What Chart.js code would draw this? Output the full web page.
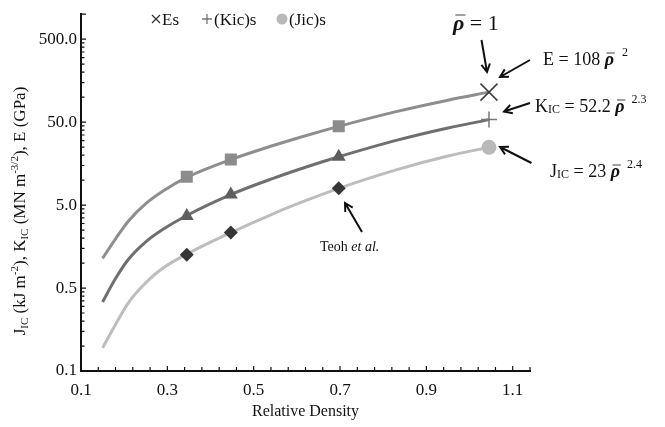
<!DOCTYPE html>
<html>
<head>
<meta charset="utf-8">
<script src="https://cdn.jsdelivr.net/npm/chart.js@4.4.1/dist/chart.umd.min.js"></script>
<style>
  html, body { margin: 0; padding: 0; background: #fff; }
</style>
</head>
<body>
<canvas id="chart" width="665" height="427"></canvas>
<script>
// Fitted curves (relative density -> property)
const fitDensity = [0.15, 0.18, 0.21, 0.25, 0.29, 0.345, 0.447, 0.545, 0.62, 0.697, 0.83, 0.95, 1.045];
const fitE = [1.14, 1.96, 3.22, 5.2, 7.4, 10.8, 17.7, 26.1, 34.3, 44.5, 67.0, 92.0, 115];
const fitK = [0.34, 0.65, 1.11, 1.8, 2.55, 3.75, 6.7, 10.5, 14.3, 19.1, 30.1, 42.5, 53.6];
const fitJ = [0.095, 0.182, 0.334, 0.58, 0.87, 1.28, 2.33, 3.93, 5.65, 7.96, 13.3, 19.5, 24.9];

// Teoh et al. points
const teohDensity = [0.345, 0.447, 0.697];
const teohE = [11.0, 17.7, 44.5];
const teohK = [3.7, 6.7, 19.1];
const teohJ = [1.26, 2.33, 7.96];

// Solid values
const solidDensity = [1.045];
const solidE = [115];
const solidK = [53.6];
const solidJ = [24.9];

// Axes
const xTicks = [0.1, 0.3, 0.5, 0.7, 0.9, 1.1];
const xTickLabels = ['0.1', '0.3', '0.5', '0.7', '0.9', '1.1'];
const xMinorStep = 0.04;
const yTicks = [0.05, 0.5, 5, 50, 500];
const yTickLabels = ['0.1', '0.5', '5.0', '50.0', '500.0'];
const yMinorMult = [2, 3, 4, 5, 6, 7, 8, 9];

const serif = "'Liberation Serif', 'Times New Roman', serif";
const pts = (xs, ys) => xs.map((x, i) => ({ x: x, y: ys[i] }));

const markerSet = (data, style, radius, fill, stroke, bw) => ({
  data: data,
  showLine: false,
  pointStyle: style,
  pointRadius: radius,
  pointBackgroundColor: fill,
  pointBorderColor: stroke,
  pointBorderWidth: bw,
  order: 0
});

const curveSet = (data, color) => ({
  data: data,
  showLine: true,
  borderColor: color,
  borderWidth: 3,
  pointRadius: 0,
  cubicInterpolationMode: 'monotone',
  order: 1
});

// Текст с индексами
function rich(ctx, parts, x, y) {
  parts.forEach(p => {
    x += p.gap || 0;
    ctx.font = p.f;
    ctx.fillText(p.t, x, y + (p.dy || 0));
    const w = ctx.measureText(p.t).width;
    if (p.bar) {
      ctx.save();
      ctx.lineWidth = 1.4;
      ctx.beginPath();
      ctx.moveTo(x + w * 0.2, y - p.bar);
      ctx.lineTo(x + w * 1.1, y - p.bar);
      ctx.stroke();
      ctx.restore();
    }
    x += w;
  });
  return x;
}

function richWidth(ctx, parts) {
  let w = 0;
  parts.forEach(p => { ctx.font = p.f; w += ctx.measureText(p.t).width + (p.gap || 0); });
  return w;
}

function arrow(ctx, x1, y1, x2, y2) {
  const a = Math.atan2(y2 - y1, x2 - x1);
  const h = 9;
  ctx.beginPath();
  ctx.moveTo(x1, y1);
  ctx.lineTo(x2, y2);
  ctx.moveTo(x2 - h * Math.cos(a - 0.5), y2 - h * Math.sin(a - 0.5));
  ctx.lineTo(x2, y2);
  ctx.lineTo(x2 - h * Math.cos(a + 0.5), y2 - h * Math.sin(a + 0.5));
  ctx.stroke();
}

const decor = {
  id: 'decor',
  afterDraw(chart) {
    const ctx = chart.ctx;
    const xs = chart.scales.x, ys = chart.scales.y;
    const left = chart.chartArea.left, bottom = chart.chartArea.bottom;
    ctx.save();
    ctx.strokeStyle = '#111';
    ctx.fillStyle = '#111';

    // засечки внутрь
    ctx.lineWidth = 1.2;
    ctx.beginPath();
    yTicks.forEach(v => {
      const p = ys.getPixelForValue(v);
      ctx.moveTo(left, p); ctx.lineTo(left + 5, p);
      yMinorMult.forEach(m => {
        if (v * m >= ys.max) return;
        const q = ys.getPixelForValue(v * m);
        ctx.moveTo(left, q); ctx.lineTo(left + 3.5, q);
      });
    });
    ctx.moveTo(left, chart.chartArea.top); ctx.lineTo(left + 5, chart.chartArea.top);
    for (let v = xs.min; v <= xs.max + 1e-9; v += xMinorStep) {
      const p = xs.getPixelForValue(v);
      ctx.moveTo(p, bottom); ctx.lineTo(p, bottom - 4);
    }
    xTicks.forEach(v => {
      const p = xs.getPixelForValue(v);
      ctx.moveTo(p, bottom); ctx.lineTo(p, bottom - 5);
    });
    ctx.stroke();

    // легенда
    ctx.textBaseline = 'alphabetic';
    ctx.lineWidth = 1.3;
    ctx.strokeStyle = '#333';
    ctx.beginPath();
    ctx.moveTo(152, 15); ctx.lineTo(160, 23);
    ctx.moveTo(160, 15); ctx.lineTo(152, 23);
    ctx.stroke();
    ctx.strokeStyle = '#777';
    ctx.beginPath();
    ctx.moveTo(202, 19); ctx.lineTo(212, 19);
    ctx.moveTo(207, 14); ctx.lineTo(207, 24);
    ctx.stroke();
    ctx.fillStyle = '#b9b9b9';
    ctx.beginPath();
    ctx.arc(282, 19, 5.5, 0, Math.PI * 2);
    ctx.fill();
    ctx.fillStyle = '#111';
    ctx.font = '17px ' + serif;
    ctx.fillText('Es', 162, 25);
    ctx.fillText('(Kic)s', 214, 25);
    ctx.fillText('(Jic)s', 289, 25);

    // подпись оси Y
    const f17 = '17px ' + serif, f11 = '11px ' + serif;
    const yTitle = [
      { t: 'J', f: f17 }, { t: 'IC', f: f11, dy: 3 }, { t: ' (kJ m', f: f17 },
      { t: '-2', f: f11, dy: -7 }, { t: '), K', f: f17 }, { t: 'IC', f: f11, dy: 3 },
      { t: ' (MN m', f: f17 }, { t: '-3/2', f: f11, dy: -7 }, { t: '), E (GPa)', f: f17 }
    ];
    ctx.save();
    ctx.translate(25, 211);
    ctx.rotate(-Math.PI / 2);
    rich(ctx, yTitle, -richWidth(ctx, yTitle) / 2, 0);
    ctx.restore();

    // аннотации справа
    const f18 = '18px ' + serif, f12 = '12px ' + serif;
    const rho18 = 'italic bold 18px ' + serif;
    ctx.fillStyle = '#111';
    rich(ctx, [
      { t: 'ρ', f: 'italic bold 22px ' + serif, bar: 15 },
      { t: ' = 1', f: '22px ' + serif }
    ], 453, 30);
    rich(ctx, [
      { t: 'E = 108 ', f: f18 }, { t: 'ρ', f: rho18, bar: 12 }, { t: '2', f: f12, dy: -9, gap: 8 }
    ], 543, 65);
    rich(ctx, [
      { t: 'K', f: f18 }, { t: 'IC', f: f12, dy: 1 }, { t: ' = 52.2 ', f: f18 },
      { t: 'ρ', f: rho18, bar: 12 }, { t: '2.3', f: f12, dy: -9, gap: 7 }
    ], 535, 112);
    rich(ctx, [
      { t: 'J', f: f18 }, { t: 'IC', f: f12, dy: 1 }, { t: ' = 23 ', f: f18 },
      { t: 'ρ', f: rho18, bar: 12 }, { t: '2.4', f: f12, dy: -9, gap: 7 }
    ], 550, 177);
    rich(ctx, [
      { t: 'Teoh ', f: '14px ' + serif }, { t: 'et al.', f: 'italic 14px ' + serif }
    ], 320, 251);

    ctx.strokeStyle = '#111';
    ctx.lineWidth = 2;
    arrow(ctx, 481.5, 40, 487, 72);
    arrow(ctx, 530, 60, 500, 77);
    arrow(ctx, 530, 103, 504, 111.5);
    arrow(ctx, 531.5, 163, 500, 147);
    arrow(ctx, 362, 232, 345, 203);
    ctx.restore();
  }
};

new Chart(document.getElementById('chart'), {
  type: 'scatter',
  data: {
    datasets: [
      markerSet(pts(solidDensity, solidE), 'crossRot', 12, '#3c3c3c', '#3c3c3c', 1.5),
      markerSet(pts(solidDensity, solidK), 'cross', 8, '#777', '#777', 1.5),
      markerSet(pts(solidDensity, solidJ), 'circle', 7.5, '#b9b9b9', '#b9b9b9', 0),
      markerSet(pts(teohDensity, teohE), 'rect', 8.5, '#8c8c8c', '#8c8c8c', 0),
      markerSet(pts(teohDensity, teohK), 'triangle', 8, '#5e5e5e', '#5e5e5e', 0),
      markerSet(pts(teohDensity, teohJ), 'rectRot', 7, '#363636', '#363636', 0),
      curveSet(pts(fitDensity, fitE), '#8e8e8e'),
      curveSet(pts(fitDensity, fitK), '#6f6f6f'),
      curveSet(pts(fitDensity, fitJ), '#bdbdbd')
    ]
  },
  options: {
    responsive: false,
    animation: false,
    devicePixelRatio: 1,
    layout: { padding: { top: 13, right: 135, left: 0, bottom: 0 } },
    plugins: {
      legend: { display: false },
      tooltip: { enabled: false }
    },
    scales: {
      x: {
        type: 'linear',
        min: 0.1,
        max: 1.14,
        afterBuildTicks: s => { s.ticks = xTicks.map(v => ({ value: v })); },
        afterFit: s => { s.height = 56; },
        grid: { display: false, drawTicks: false },
        border: { color: '#111', width: 2 },
        ticks: {
          callback: (v, i) => xTickLabels[i],
          font: { family: serif, size: 17 },
          color: '#111',
          padding: 9,
          maxRotation: 0,
          autoSkip: false
        },
        title: {
          display: true,
          text: 'Relative Density',
          font: { family: serif, size: 16 },
          color: '#111',
          padding: { top: 0, bottom: 6 }
        }
      },
      y: {
        type: 'logarithmic',
        min: 0.05,
        max: 1000,
        afterBuildTicks: s => { s.ticks = yTicks.map(v => ({ value: v })); },
        afterFit: s => { s.width = 81; },
        grid: { display: false, drawTicks: false },
        border: { color: '#111', width: 2 },
        ticks: {
          callback: (v, i) => yTickLabels[i],
          font: { family: serif, size: 17 },
          color: '#111',
          padding: 4,
          autoSkip: false
        }
      }
    }
  },
  plugins: [decor]
});
</script>
</body>
</html>
